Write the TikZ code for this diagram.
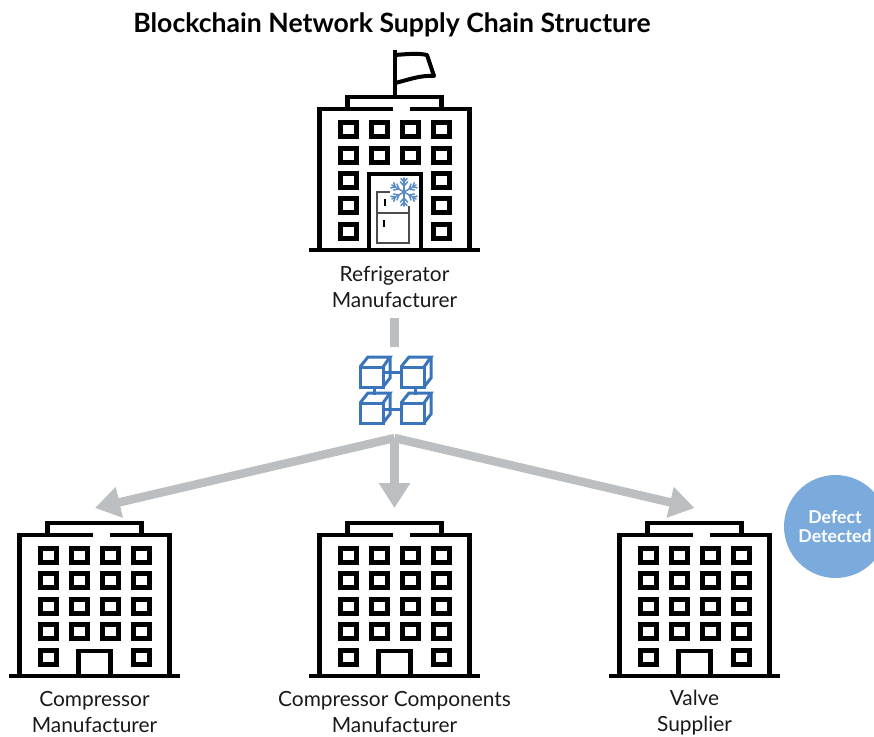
\documentclass[tikz,border=0pt]{standalone}
\usepackage{fontspec}
\setmainfont{Lato}
\usetikzlibrary{arrows.meta}
\definecolor{linkgray}{HTML}{BBBFC1}
\definecolor{chainblue}{HTML}{3A75BC}
\definecolor{badgeblue}{HTML}{7AABDC}
\tikzset{
  x=1pt,y=-1pt,
  wall/.style={draw=black,line width=4.2pt,line cap=butt,line join=miter},
  windowbox/.style={draw=black,line width=5pt,fill=white},
  label/.style={font=\fontsize{20.9}{26}\selectfont,align=center,text=black!90,inner sep=0pt},
  linkline/.style={draw=linkgray,line width=8.5pt},
  linkarrow/.style={linkline,-{Triangle[length=25pt,width=30pt]}},
  cube/.style={draw=chainblue,line width=3pt,line join=miter},
  chainlink/.style={draw=chainblue,line width=3pt},
  fridge/.style={draw=black!70,line width=1.5pt},
  flake/.style={draw=chainblue!85,line width=1.5pt,line cap=round},
  pics/shell/.style={code={
    \draw[wall] (-47,-141) -- (-47,-153) -- (47,-153) -- (47,-141);
    \draw[wall] (-1.5,-141) -- (-75,-141) -- (-75,0);
    \draw[wall] (15.5,-141) -- (75,-141) -- (75,0);
    \draw[wall] (-85.5,0) -- (85,0);
  }},
  pics/win/.style={code={\draw[windowbox] (-8,-7) rectangle (8,7);}},
  pics/fullbuilding/.style={code={
    \pic {shell};
    \foreach \wy in {-121,-96,-70,-45}
      \foreach \wx in {-46.5,-15.5,15.5,46.5}
        \pic at (\wx,\wy) {win};
    \foreach \wx in {-46.5,46.5}
      \pic at (\wx,-19) {win};
    \draw[wall] (-16,0) -- (-16,-25) -- (16,-25) -- (16,0);
  }},
  pics/blockcube/.style={code={
    \draw[cube] (0,0) rectangle (23,20);
    \draw[cube] (0,0) -- (8,-10) -- (30,-10) -- (23,0);
    \draw[cube] (30,-10) -- (30,11) -- (23,20);
  }}
}
\begin{document}
\begin{tikzpicture}
\useasboundingbox (0,0) rectangle (874,736);
\node[font=\fontsize{26.6}{30}\selectfont\bfseries,inner sep=0pt] (title) at (392,25) {Blockchain Network Supply Chain Structure};

% Top building
\pic at (394.5,250) {shell};
\foreach \wy in {129,155}
  \foreach \wx in {348,379,410,441}
    \pic at (\wx,\wy) {win};
\foreach \wy in {180,205,231}
  \foreach \wx in {348,441}
    \pic at (\wx,\wy) {win};
\draw[wall] (369,250) -- (369,174) -- (421,174) -- (421,250);
\draw[wall] (395,97) -- (395,50);
\draw[wall,line width=4pt,line join=round] (395,55) .. controls (408,54) and (418,53) .. (427,55) -- (434,76) .. controls (420,75) and (408,80) .. (395,83);
% Fridge
\draw[fridge] (390,192) -- (377,192) -- (377,243) -- (409,243) -- (409,206);
\draw[fridge] (377,213) -- (409,213);
\draw[black,line width=1.8pt] (385,199) -- (385,206);
\draw[black,line width=1.8pt] (384,220) -- (384,227);
% Snowflake
\begin{scope}[shift={(404,192)}]
  \foreach \a in {30,90,150,210,270,330}{
    \begin{scope}[rotate=\a]
      \draw[flake] (0,0) -- (14,0);
      \draw[flake] (6,0) -- (10,3.5);
      \draw[flake] (6,0) -- (10,-3.5);
      \draw[flake] (10,0) -- (13.5,3);
      \draw[flake] (10,0) -- (13.5,-3);
    \end{scope}
  }
\end{scope}
\node[label] (refr) at (394.5,287) {Refrigerator\\Manufacturer};

% Blockchain
\coordinate (chaintop) at (394.5,347);
\coordinate (reflow) at (394.5,318);
\draw[linkline,line width=9pt] (reflow) -- (chaintop);
\pic at (360,367) {blockcube};
\pic at (401,367) {blockcube};
\pic at (360,403) {blockcube};
\pic at (401,403) {blockcube};
\coordinate (la) at (383,372); \coordinate (lb) at (401,372);
\coordinate (lc) at (383,409); \coordinate (ld) at (401,409);
\coordinate (le) at (374,387); \coordinate (lf) at (374,395);
\coordinate (lg) at (415,387); \coordinate (lh) at (415,395);
\draw[chainlink] (la) -- (lb);
\draw[chainlink] (lc) -- (ld);
\draw[chainlink] (le) -- (lf);
\draw[chainlink] (lg) -- (lh);

% Arrows
\coordinate (hub) at (394.5,438);
\coordinate (tipl) at (95,508);
\coordinate (tipc) at (394.5,508);
\coordinate (tipr) at (694.5,508);
\draw[linkarrow] (hub) -- (tipl);
\draw[linkarrow] (hub) -- (tipc);
\draw[linkarrow] (hub) -- (tipr);

% Bottom buildings
\pic at (94.5,676) {fullbuilding};
\pic at (394.5,676) {fullbuilding};
\pic at (694.5,676) {fullbuilding};
\node[label] (comp) at (94.5,712) {Compressor\\Manufacturer};
\node[label] (cc) at (394.5,712) {Compressor Components\\Manufacturer};
\node[label] (valve) at (694.5,713) {Valve\\Supplier};

% Badge
\begin{scope}
  \clip (0,0) rectangle (874,736);
  \fill[badgeblue] (835.5,526.5) circle (51.5);
\end{scope}
\node[font=\fontsize{17.7}{19}\selectfont\bfseries,text=white,align=center,inner sep=0pt] (defect) at (835,526.5) {Defect\\Detected};
\end{tikzpicture}
\end{document}
